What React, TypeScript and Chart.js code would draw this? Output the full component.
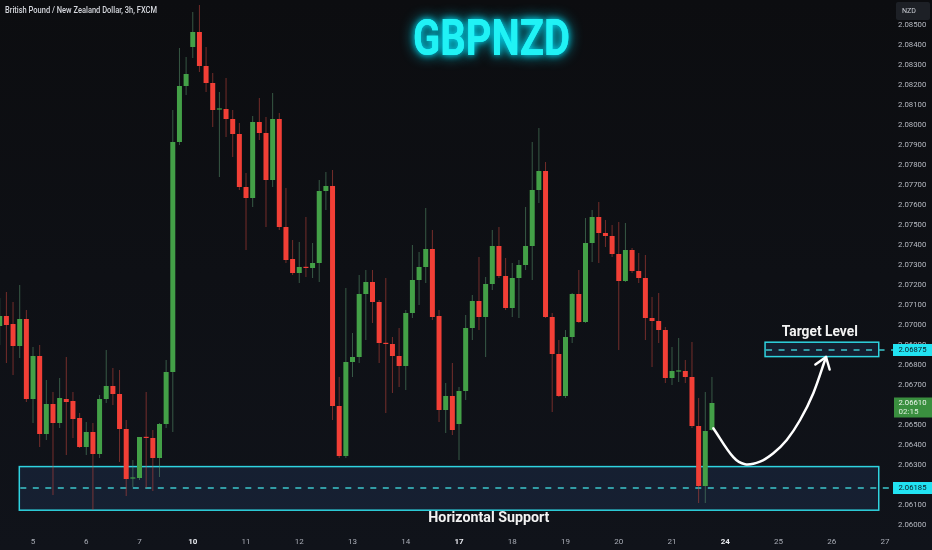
import React, { useEffect, useRef } from 'react';
import { Chart, registerables } from 'chart.js';

Chart.register(...registerables);

// ---- OHLC data (3h candles, GBP/NZD) ----
const OPEN = [
  2.06995, 2.07045, 2.07005, 2.06895, 2.0703, 2.0663, 2.06845, 2.06455, 2.06605, 2.0651,
  2.0663, 2.0662, 2.06535, 2.0639, 2.06465, 2.06355, 2.0663, 2.06695, 2.06655, 2.0648,
  2.06232, 2.06235, 2.0644, 2.06435, 2.06335, 2.06505, 2.06765, 2.07915, 2.08195, 2.0839,
  2.08465, 2.08295, 2.0821, 2.08077, 2.0808, 2.0803, 2.07955, 2.0769, 2.07635, 2.08015,
  2.0796, 2.07725, 2.0803, 2.0749, 2.0733, 2.0726, 2.0729, 2.07285, 2.0731, 2.0767,
  2.07695, 2.06595, 2.06345, 2.06815, 2.0684, 2.07155, 2.07215, 2.07115, 2.0691, 2.06905,
  2.06845, 2.06795, 2.0706, 2.07225, 2.0729, 2.0738, 2.07045, 2.06575, 2.06645, 2.06505,
  2.0667, 2.06985, 2.0712, 2.0704, 2.07205, 2.07395, 2.07245, 2.07085, 2.07235, 2.073,
  2.07395, 2.07675, 2.0777, 2.0704, 2.06855, 2.06645, 2.0694, 2.07155, 2.07015, 2.0741,
  2.0754, 2.0746, 2.07445, 2.07355, 2.0722, 2.07375, 2.0727, 2.07235, 2.07035, 2.0702,
  2.06975, 2.06735, 2.06767, 2.0677, 2.0674, 2.06495, 2.06195, 2.06475,
];
const HIGH = [
  2.07135, 2.07165, 2.07115, 2.072, 2.07075, 2.0689, 2.069, 2.06725, 2.06665, 2.06735,
  2.0684, 2.06665, 2.0656, 2.06515, 2.0651, 2.0665, 2.06875, 2.06785, 2.06775, 2.06525,
  2.06325, 2.0644, 2.06665, 2.06475, 2.0651, 2.06825, 2.08075, 2.08385, 2.0834, 2.08565,
  2.086, 2.0839, 2.0826, 2.08165, 2.08235, 2.08075, 2.0801, 2.0776, 2.08045, 2.08135,
  2.0804, 2.0816, 2.0806, 2.07685, 2.07425, 2.07415, 2.0754, 2.0741, 2.07725, 2.07765,
  2.07775, 2.0674, 2.07185, 2.0696, 2.0725, 2.07275, 2.07275, 2.07125, 2.07235, 2.0694,
  2.06985, 2.07075, 2.074, 2.07365, 2.07585, 2.07475, 2.07075, 2.0671, 2.0681, 2.0669,
  2.0705, 2.0715, 2.0734, 2.0724, 2.07475, 2.0749, 2.07335, 2.0731, 2.07325, 2.0759,
  2.07915, 2.07985, 2.07815, 2.0706, 2.06925, 2.06975, 2.0716, 2.07275, 2.07535, 2.07575,
  2.07615, 2.07525, 2.075, 2.07515, 2.0751, 2.07385, 2.0736, 2.0735, 2.0714, 2.0716,
  2.0699, 2.0689, 2.06935, 2.06825, 2.06915, 2.06635, 2.06665, 2.0674,
];
const LOW = [
  2.069, 2.0681, 2.0675, 2.06835, 2.06615, 2.0651, 2.0639, 2.06425, 2.0615, 2.06485,
  2.0635, 2.06435, 2.06385, 2.0635, 2.06075, 2.06335, 2.0661, 2.066, 2.06315, 2.06145,
  2.0619, 2.06225, 2.06185, 2.0617, 2.0624, 2.06485, 2.06465, 2.079, 2.0815, 2.08335,
  2.08265, 2.08165, 2.0799, 2.0774, 2.0794, 2.0784, 2.07675, 2.07375, 2.0759, 2.07925,
  2.0749, 2.0769, 2.07475, 2.0731, 2.0725, 2.0721, 2.0724, 2.07235, 2.07215, 2.07575,
  2.06525, 2.06335, 2.06335, 2.0674, 2.0681, 2.06925, 2.0701, 2.0681, 2.0656, 2.0666,
  2.0669, 2.06675, 2.07035, 2.071, 2.0721, 2.07025, 2.06515, 2.0646, 2.0645, 2.06325,
  2.06625, 2.06925, 2.06975, 2.0684, 2.07175, 2.07235, 2.07075, 2.0704, 2.07035, 2.07275,
  2.07225, 2.0761, 2.07035, 2.06565, 2.0664, 2.06635, 2.0691, 2.0701, 2.0701, 2.07315,
  2.0731, 2.0739, 2.0734, 2.06875, 2.07215, 2.0726, 2.0721, 2.06925, 2.0679, 2.0691,
  2.0671, 2.067, 2.06715, 2.0671, 2.06485, 2.0611, 2.0611, 2.0647,
];
const CLOSE = [
  2.07045, 2.07, 2.06895, 2.0703, 2.0663, 2.06845, 2.06455, 2.06605, 2.0651, 2.06635,
  2.06615, 2.0653, 2.0639, 2.06465, 2.06355, 2.0663, 2.06695, 2.06655, 2.0648, 2.0623,
  2.06235, 2.0644, 2.06435, 2.06335, 2.06505, 2.06765, 2.07915, 2.08195, 2.08255, 2.08465,
  2.08295, 2.0821, 2.08075, 2.0808, 2.0803, 2.07955, 2.0769, 2.07635, 2.08015, 2.0796,
  2.07725, 2.0803, 2.0749, 2.07325, 2.0726, 2.0729, 2.07285, 2.0731, 2.0767, 2.07695,
  2.06595, 2.06345, 2.06815, 2.0684, 2.07155, 2.07215, 2.07115, 2.0691, 2.06905, 2.06845,
  2.06795, 2.0706, 2.07225, 2.0729, 2.0738, 2.0704, 2.06575, 2.06645, 2.06475, 2.0667,
  2.06985, 2.0712, 2.0704, 2.07205, 2.07395, 2.07245, 2.07085, 2.07235, 2.073, 2.07395,
  2.07675, 2.0777, 2.0704, 2.06855, 2.06645, 2.0694, 2.07155, 2.07015, 2.0741, 2.0754,
  2.0746, 2.07445, 2.07355, 2.0722, 2.07375, 2.0727, 2.07235, 2.07035, 2.0702, 2.06975,
  2.06735, 2.0677, 2.0677, 2.0674, 2.06495, 2.06195, 2.0647, 2.0661,
];

// ---- axis ticks ----
const DAY_TICK_INDEX = [5, 13, 21, 29, 37, 45, 53, 61, 69, 77, 85, 93, 101, 109, 117, 125, 133];
const DAY_TICK_LABELS = ['5', '6', '7', '10', '11', '12', '13', '14', '17', '18', '19', '20', '21', '24', '25', '26', '27'];
const BOLD_DAY_LABELS = ['10', '17', '24'];
const PRICE_TICKS = [
  2.06, 2.061, 2.062, 2.063, 2.064, 2.065, 2.066, 2.067, 2.068, 2.069, 2.07, 2.071, 2.072,
  2.073, 2.074, 2.075, 2.076, 2.077, 2.078, 2.079, 2.08, 2.081, 2.082, 2.083, 2.084, 2.085,
];

// ---- annotations (data coordinates: candle index, price) ----
const SUPPORT_ZONE = [2.06074, 2.06292];
const SUPPORT_LEVEL = 2.06185;
const SUPPORT_SPAN = [2.94, 132.06];
const TARGET_ZONE = [2.06842, 2.06914];
const TARGET_LEVEL = 2.06875;
const TARGET_SPAN = [114.98, 132.06];
const LAST_PRICE = 2.0661;
const COUNTDOWN = '02:15';
const ARROW_X = [107.21, 110.21, 111.97, 114.22, 116.22, 118.24, 120.24, 122.23, 124.14];
const ARROW_Y = [2.06484, 2.06339, 2.06304, 2.06317, 2.06359, 2.06425, 2.06525, 2.06659, 2.0684];
const TARGET_LABEL_AT = [123.2, 2.06962];
const SUPPORT_LABEL_AT = [73.48, 2.06034];

const X_MIN = 0.04;
const X_MAX = 133.45;
const Y_MIN = 2.05985;
const Y_MAX = 2.08625;

const UP = '#43a047';
const DOWN = '#f23f36';
const UP_WICK = 'rgba(90,150,110,0.55)';
const DOWN_WICK = 'rgba(200,70,60,0.55)';
const CYAN = '#22e3f2';
const FONT = 'Roboto';

function fitText(ctx: CanvasRenderingContext2D, text: string, x: number, y: number, font: string, color: string, width: number, align: CanvasTextAlign) {
  ctx.save();
  ctx.font = font;
  const w = ctx.measureText(text).width;
  const s = width / w;
  ctx.translate(x, y);
  ctx.scale(s, 1);
  ctx.fillStyle = color;
  ctx.textBaseline = 'middle';
  ctx.textAlign = align;
  ctx.fillText(text, 0, 0);
  ctx.restore();
}

const overlayPlugin = {
  id: 'overlay',
  beforeDraw(chart: any) {
    const { ctx, width, height } = chart;
    ctx.save();
    const g = ctx.createLinearGradient(0, 0, 0, height);
    g.addColorStop(0, '#0c0d10');
    g.addColorStop(1, '#10131a');
    ctx.fillStyle = g;
    ctx.fillRect(0, 0, width, height);
    ctx.restore();
  },
  beforeDatasetsDraw(chart: any) {
    const { ctx, chartArea } = chart;
    const x = chart.scales.x;
    const y = chart.scales.y;
    const zone = (span: number[], z: number[], level: number) => {
      const l = x.getPixelForValue(span[0]);
      const r = x.getPixelForValue(span[1]);
      const t = y.getPixelForValue(z[1]);
      const b = y.getPixelForValue(z[0]);
      ctx.save();
      ctx.fillStyle = 'rgba(40,72,125,0.25)';
      ctx.fillRect(l, t, r - l, b - t);
      ctx.strokeStyle = '#2fd3e0';
      ctx.lineWidth = 1.5;
      ctx.strokeRect(l, t, r - l, b - t);
      const ly = y.getPixelForValue(level);
      ctx.strokeStyle = '#3cc6cc';
      ctx.setLineDash([6, 6.5]);
      ctx.beginPath();
      ctx.moveTo(l + 1, ly);
      ctx.lineTo(chartArea.right + 5, ly);
      ctx.stroke();
      ctx.restore();
    };
    zone(SUPPORT_SPAN, SUPPORT_ZONE, SUPPORT_LEVEL);
    zone(TARGET_SPAN, TARGET_ZONE, TARGET_LEVEL);
  },
  afterDatasetsDraw(chart: any) {
    const { ctx } = chart;
    const x = chart.scales.x;
    const y = chart.scales.y;
    const n = ARROW_X.length;
    const tx = x.getPixelForValue(ARROW_X[n - 1]);
    const ty = y.getPixelForValue(ARROW_Y[n - 1]);
    const px = x.getPixelForValue(ARROW_X[n - 2]);
    const py = y.getPixelForValue(ARROW_Y[n - 2]);
    const ang = Math.atan2(ty - py, tx - px);
    const len = 13;
    const spread = 0.62;
    ctx.save();
    ctx.strokeStyle = '#ffffff';
    ctx.lineWidth = 2.5;
    ctx.lineCap = 'round';
    ctx.lineJoin = 'round';
    ctx.beginPath();
    ctx.moveTo(tx - len * Math.cos(ang - spread), ty - len * Math.sin(ang - spread));
    ctx.lineTo(tx, ty);
    ctx.lineTo(tx - len * Math.cos(ang + spread), ty - len * Math.sin(ang + spread));
    ctx.stroke();
    ctx.restore();
  },
  afterDraw(chart: any) {
    const { ctx, chartArea } = chart;
    const x = chart.scales.x;
    const y = chart.scales.y;
    const axL = chartArea.right + 5;
    const axR = chart.width;

    // top-left symbol description
    fitText(ctx, 'British Pound / New Zealand Dollar, 3h, FXCM', 5, 10.5, `500 8.5px ${FONT}`, '#d6d8de', 152, 'left');

    // NZD currency box
    ctx.save();
    ctx.fillStyle = '#1d2026';
    ctx.beginPath();
    (ctx as any).roundRect(896, 2, 34, 18, 2);
    ctx.fill();
    ctx.restore();
    fitText(ctx, 'NZD', 902, 11, `8px ${FONT}`, '#c9ccd3', 14, 'left');

    // big glowing title
    ctx.save();
    ctx.shadowColor = 'rgba(0,230,255,0.9)';
    ctx.shadowBlur = 14;
    fitText(ctx, 'GBPNZD', 491.5, 42, `bold 50px ${FONT}`, '#1cf0f4', 157, 'center');
    ctx.shadowBlur = 6;
    fitText(ctx, 'GBPNZD', 491.5, 42, `bold 50px ${FONT}`, '#20f2f5', 157, 'center');
    ctx.restore();

    // annotation texts
    fitText(ctx, 'Target Level', x.getPixelForValue(TARGET_LABEL_AT[0]), y.getPixelForValue(TARGET_LABEL_AT[1]), `bold 14px ${FONT}`, '#f2f2f2', 76, 'center');
    fitText(ctx, 'Horizontal Support', x.getPixelForValue(SUPPORT_LABEL_AT[0]), y.getPixelForValue(SUPPORT_LABEL_AT[1]), `bold 14px ${FONT}`, '#f2f2f2', 121, 'center');

    // price-axis labels
    const priceBox = (v: number, bg: string, fg: string) => {
      const py = y.getPixelForValue(v);
      ctx.save();
      ctx.fillStyle = bg;
      ctx.fillRect(axL, py - 6, axR - axL, 12);
      ctx.restore();
      fitText(ctx, v.toFixed(5), axL + 5.5, py, `8px ${FONT}`, fg, 28, 'left');
    };
    priceBox(TARGET_LEVEL, CYAN, '#0b1a22');
    priceBox(SUPPORT_LEVEL, CYAN, '#0b1a22');

    const lp = y.getPixelForValue(LAST_PRICE);
    ctx.save();
    ctx.fillStyle = '#3a8f3f';
    ctx.fillRect(axL + 1, lp - 5.5, axR - axL - 1, 20);
    ctx.restore();
    fitText(ctx, LAST_PRICE.toFixed(5), axL + 5.5, lp, `8px ${FONT}`, '#eef6ee', 28, 'left');
    fitText(ctx, COUNTDOWN, axL + 5.5, lp + 9, `8px ${FONT}`, '#dcefdc', 20, 'left');
  },
};

export default function App() {
  const ref = useRef<HTMLCanvasElement>(null);

  useEffect(() => {
    if (!ref.current) return;
    const up = OPEN.map((o, i) => CLOSE[i] >= o);
    const bodies = OPEN.map((o, i) => ({ x: i, y: [Math.min(o, CLOSE[i]), Math.max(o, CLOSE[i])] }));
    const wicks = OPEN.map((_, i) => ({ x: i, y: [LOW[i], HIGH[i]] }));
    const arrow = ARROW_X.map((v, i) => ({ x: v, y: ARROW_Y[i] }));

    const chart = new Chart(ref.current, {
      type: 'bar',
      data: {
        datasets: [
          {
            type: 'line',
            data: arrow,
            borderColor: '#ffffff',
            borderWidth: 2.5,
            pointRadius: 0,
            tension: 0.35,
            order: 0,
            borderCapStyle: 'round',
          } as any,
          {
            type: 'bar',
            data: bodies,
            backgroundColor: up.map((u) => (u ? UP : DOWN)),
            barThickness: 5,
            grouped: false,
            minBarLength: 1.2,
            borderWidth: 0,
            inflateAmount: 0,
            order: 1,
          } as any,
          {
            type: 'bar',
            data: wicks,
            backgroundColor: up.map((u) => (u ? UP_WICK : DOWN_WICK)),
            barThickness: 1,
            grouped: false,
            borderWidth: 0,
            inflateAmount: 0,
            order: 2,
          } as any,
        ],
      },
      options: {
        responsive: false,
        devicePixelRatio: 1,
        animation: false,
        layout: { padding: 0 },
        plugins: {
          legend: { display: false },
          tooltip: { enabled: false },
        },
        scales: {
          x: {
            type: 'linear',
            min: X_MIN,
            max: X_MAX,
            offset: false,
            grid: { display: false, drawTicks: false },
            border: { display: false },
            ticks: {
              autoSkip: false,
              maxRotation: 0,
              padding: 9,
              font: (c: any) => ({
                family: FONT,
                size: 8,
                weight: BOLD_DAY_LABELS.includes(DAY_TICK_LABELS[c.index]) ? 'bold' : 'normal',
              }),
              color: (c: any) => (BOLD_DAY_LABELS.includes(DAY_TICK_LABELS[c.index]) ? '#e8eaef' : '#a9adb6'),
              callback: (v: any) => {
                const i = DAY_TICK_INDEX.indexOf(Number(v));
                return i >= 0 ? DAY_TICK_LABELS[i] : '';
              },
            },
            afterBuildTicks: (s: any) => {
              s.ticks = DAY_TICK_INDEX.map((v) => ({ value: v }));
            },
            afterFit: (s: any) => {
              s.height = 22;
              s.paddingLeft = 0;
              s.paddingRight = 0;
            },
          } as any,
          y: {
            type: 'linear',
            position: 'right',
            min: Y_MIN,
            max: Y_MAX,
            grid: { display: false, drawTicks: false },
            border: { display: false },
            ticks: {
              autoSkip: false,
              padding: 10,
              color: '#b7bac2',
              font: { family: FONT, size: 7.8 },
              callback: (v: any) => Number(v).toFixed(5),
            },
            afterBuildTicks: (s: any) => {
              s.ticks = PRICE_TICKS.map((v) => ({ value: v }));
            },
            afterFit: (s: any) => {
              s.width = 44;
              s.paddingTop = 0;
              s.paddingBottom = 0;
            },
          } as any,
        },
      },
      plugins: [overlayPlugin],
    } as any);

    return () => chart.destroy();
  }, []);

  return (
    <div style={{ position: 'absolute', left: 0, top: 0, width: 932, height: 550, background: '#0d0e12' }}>
      <canvas ref={ref} width={932} height={550} style={{ display: 'block' }} />
    </div>
  );
}
